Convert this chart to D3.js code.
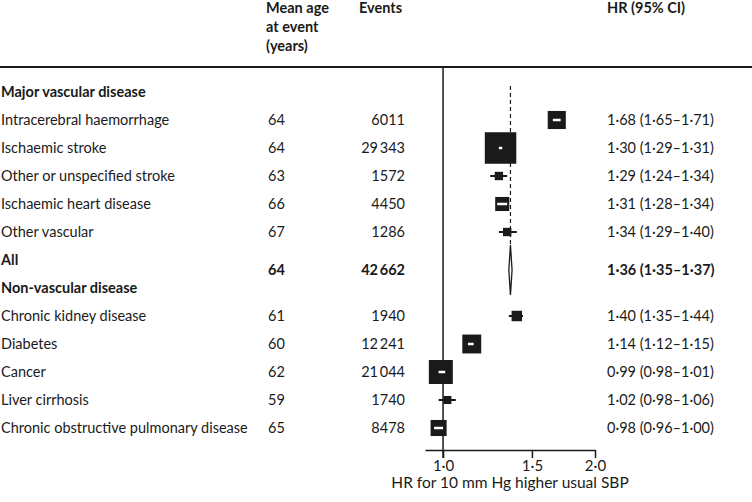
<!DOCTYPE html>
<html>
<head>
<meta charset="utf-8">
<script src="https://cdn.jsdelivr.net/npm/d3@7"></script>
<style>
  body { margin: 0; background: #fff; }
  svg text { font-family: Lato, "Open Sans", sans-serif; font-size: 14.5px; fill: #1a1a1a; }
  .bold { font-weight: bold; }
</style>
</head>
<body>
<svg id="chart" width="752" height="502"></svg>
<script>
// outcomes, grouped
const groups = ["Major vascular disease", "Non-vascular disease"];
const outcomes = [
    "Intracerebral haemorrhage",
    "Ischaemic stroke",
    "Other or unspecified stroke",
    "Ischaemic heart disease",
    "Other vascular",
    "All",
    "Chronic kidney disease",
    "Diabetes",
    "Cancer",
    "Liver cirrhosis",
    "Chronic obstructive pulmonary disease"
];
const outcomeGroup = [0, 0, 0, 0, 0, 0, 1, 1, 1, 1, 1];
const isTotal = [false, false, false, false, false, true, false, false, false, false, false];

const meanAge = [64, 64, 63, 66, 67, 64, 61, 60, 62, 59, 65];
const events = [6011, 29343, 1572, 4450, 1286, 42662, 1940, 12241, 21044, 1740, 8478];
const hr = [1.68, 1.30, 1.29, 1.31, 1.34, 1.36, 1.40, 1.14, 0.99, 1.02, 0.98];
const lo = [1.65, 1.29, 1.24, 1.28, 1.29, 1.35, 1.35, 1.12, 0.98, 0.98, 0.96];
const hi = [1.71, 1.31, 1.34, 1.34, 1.40, 1.37, 1.44, 1.15, 1.01, 1.06, 1.00];
// relative statistical information (inverse variance)
const info = [33, 100, 7, 20, 7, null, 11, 36, 58, 6.5, 26];

const xTicks = [1.0, 1.5, 2.0];

const svg = d3.select("#chart");

// build the row slots: a header row per group, then its outcomes
const slots = [];
let lastGroup = -1;
outcomes.forEach((name, i) => {
    if (outcomeGroup[i] !== lastGroup) {
        slots.push({ type: "group", label: groups[outcomeGroup[i]] });
        lastGroup = outcomeGroup[i];
    }
    slots.push({ type: isTotal[i] ? "total" : "row", label: name, i: i });
});

const y = d3.scaleLinear().domain([0, slots.length - 1]).range([92, 428]);
const x = d3.scaleLog().domain([0.921, 2.0]).range([425, 595]);
const boxSide = d3.scaleSqrt().domain([0, 100]).range([0, 31.5]);

const fmtHR = v => d3.format(".2f")(v).replace(".", "\u00b7");
const fmtN = v => v >= 10000 ? d3.format(",")(v).replace(",", "\u2009") : String(v);

// column headers
const head = svg.append("g");
["Mean age", "at event", "(years)"].forEach((t, k) => {
    head.append("text").attr("x", 266).attr("y", 8 + k * 19).attr("dy", "0.35em").attr("class", "bold").text(t);
});
head.append("text").attr("x", 359).attr("y", 8).attr("dy", "0.35em").attr("class", "bold").text("Events");
head.append("text").attr("x", 607).attr("y", 8).attr("dy", "0.35em").attr("class", "bold").text("HR (95% CI)");

svg.append("line")
    .attr("x1", 0).attr("x2", 752).attr("y1", 67).attr("y2", 67)
    .attr("stroke", "#1a1a1a").attr("stroke-width", 1.8);

// axis
const axis = svg.append("g")
    .attr("transform", "translate(0,450)")
    .call(d3.axisBottom(x).tickValues(xTicks).tickSize(8).tickSizeOuter(0)
        .tickFormat(d => d3.format(".1f")(d).replace(".", "\u00b7")));
axis.select(".domain").attr("stroke", "#1a1a1a").attr("stroke-width", 1.5);
axis.selectAll(".tick line").attr("stroke", "#1a1a1a").attr("stroke-width", 1.5);
axis.selectAll(".tick text").attr("y", 10).attr("font-size", null).attr("font-family", null).attr("fill", null)
    .style("font-size", "15px");

svg.append("text")
    .attr("x", (x.range()[0] + x.range()[1]) / 2).attr("y", 483).attr("dy", "0.35em")
    .attr("text-anchor", "middle")
    .style("font-size", "15.5px")
    .text("HR for 10 mm Hg higher usual SBP");

// line of no effect
svg.append("line")
    .attr("x1", x(1)).attr("x2", x(1)).attr("y1", 67).attr("y2", 458)
    .attr("stroke", "#1a1a1a").attr("stroke-width", 1.5);

// overall estimate, dashed
const totalIdx = isTotal.indexOf(true);
const totalSlot = slots.findIndex(s => s.type === "total");
const diamondHalf = 25;
svg.append("line")
    .attr("x1", x(hr[totalIdx])).attr("x2", x(hr[totalIdx]))
    .attr("y1", 86).attr("y2", y(totalSlot) + 10 - diamondHalf)
    .attr("stroke", "#1a1a1a").attr("stroke-width", 1.2)
    .attr("stroke-dasharray", "4,3");

// text columns and markers
const rows = svg.append("g");
slots.forEach((s, k) => {
    const yy = y(k);
    if (s.type === "group") {
        rows.append("text").attr("x", 1).attr("y", yy).attr("dy", "0.35em").attr("class", "bold").text(s.label);
        return;
    }
    const i = s.i;
    const total = s.type === "total";
    const yv = total ? yy + 10 : yy;
    rows.append("text").attr("x", 1).attr("y", yy).attr("dy", "0.35em")
        .attr("class", total ? "bold" : null).text(s.label);
    rows.append("text").attr("x", 268).attr("y", yv).attr("dy", "0.35em")
        .attr("class", total ? "bold" : null).text(meanAge[i]);
    rows.append("text").attr("x", 405).attr("y", yv).attr("dy", "0.35em")
        .attr("text-anchor", "end").attr("class", total ? "bold" : null).text(fmtN(events[i]));
    rows.append("text").attr("x", 607).attr("y", yv).attr("dy", "0.35em")
        .attr("class", total ? "bold" : null)
        .text(`${fmtHR(hr[i])} (${fmtHR(lo[i])}\u2013${fmtHR(hi[i])})`);

    if (total) {
        rows.append("path")
            .attr("d", `M${x(lo[i])},${yv} L${x(hr[i])},${yv - diamondHalf} L${x(hi[i])},${yv} L${x(hr[i])},${yv + diamondHalf} Z`)
            .attr("fill", "#fff").attr("stroke", "#1a1a1a").attr("stroke-width", 1.3);
        return;
    }

    const side = boxSide(info[i]);
    const x0 = x(lo[i]), x1 = x(hi[i]), cx = x(hr[i]);
    const inside = x0 >= cx - side / 2 && x1 <= cx + side / 2;
    if (!inside) {
        rows.append("line").attr("x1", x0).attr("x2", x1).attr("y1", yv).attr("y2", yv)
            .attr("stroke", "#1a1a1a").attr("stroke-width", 2);
    }
    rows.append("rect")
        .attr("x", cx - side / 2).attr("y", yv - side / 2)
        .attr("width", side).attr("height", side)
        .attr("fill", "#1a1a1a");
    if (inside) {
        rows.append("line").attr("x1", x0).attr("x2", x1).attr("y1", yv).attr("y2", yv)
            .attr("stroke", "#fff").attr("stroke-width", 2.5);
    }
});
</script>
</body>
</html>
